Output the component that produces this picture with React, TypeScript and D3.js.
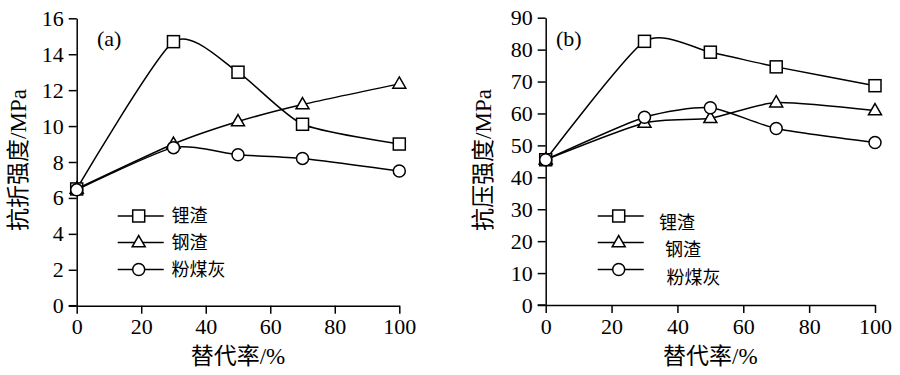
import React, { useEffect, useRef } from "react";
import * as d3 from "d3";

const xValues = [0, 30, 50, 70, 100];
const seriesNames = ["锂渣", "钢渣", "粉煤灰"];
const markers = ["square", "triangle", "circle"];

const flexLi = [6.5, 14.7, 13.0, 10.1, 9.0];
const flexSteel = [6.5, 9.0, 10.25, 11.2, 12.35];
const flexFly = [6.45, 8.8, 8.4, 8.2, 7.5];

const compLi = [45.5, 82.6, 79.2, 74.6, 68.7];
const compSteel = [45.5, 57.0, 58.5, 63.4, 60.9];
const compFly = [45.5, 58.8, 61.8, 55.3, 50.9];

const xTicks = [0, 20, 40, 60, 80, 100];
const flexTicks = [0, 2, 4, 6, 8, 10, 12, 14, 16];
const compTicks = [0, 10, 20, 30, 40, 50, 60, 70, 80, 90];

const NUM_FONT = "Liberation Serif, Times New Roman, Noto Sans CJK SC, serif";

type Panel = {
  label: string;
  yTitle: string;
  yMax: number;
  yTicks: number[];
  series: number[][];
  x0: number;
  x1: number;
  y0: number;
  y1: number;
  yTitleX: number;
  legendX: number;
  legendTextX: number[];
  legendTextDy: number[];
  labelX: number;
};

const panels: Panel[] = [
  {
    label: "(a)",
    yTitle: "抗折强度/MPa",
    yMax: 16,
    yTicks: flexTicks,
    series: [flexLi, flexSteel, flexFly],
    x0: 76.7,
    x1: 399.3,
    y0: 305.7,
    y1: 18.3,
    yTitleX: 18,
    legendX: 117.7,
    legendTextX: [171.5, 171.5, 171.5],
    legendTextDy: [0, 0, 0],
    labelX: 97,
  },
  {
    label: "(b)",
    yTitle: "抗压强度/MPa",
    yMax: 90,
    yTicks: compTicks,
    series: [compLi, compSteel, compFly],
    x0: 545.7,
    x1: 875,
    y0: 305,
    y1: 17.7,
    yTitleX: 483,
    legendX: 597.7,
    legendTextX: [659, 665, 666.5],
    legendTextDy: [7, 7, 8],
    labelX: 556,
  },
];

function drawMarker(g: any, type: string, x: number, y: number) {
  if (type === "square") {
    g.append("rect")
      .attr("x", x - 6)
      .attr("y", y - 6)
      .attr("width", 12)
      .attr("height", 12)
      .attr("fill", "#fff")
      .attr("stroke", "#000")
      .attr("stroke-width", 1.5);
  } else if (type === "triangle") {
    const s = 13;
    const h = s * 0.866;
    g.append("path")
      .attr(
        "d",
        `M${x},${y - h * 0.62}L${x + s / 2},${y + h * 0.38}L${x - s / 2},${y + h * 0.38}Z`
      )
      .attr("fill", "#fff")
      .attr("stroke", "#000")
      .attr("stroke-width", 1.5);
  } else {
    g.append("circle")
      .attr("cx", x)
      .attr("cy", y)
      .attr("r", 6)
      .attr("fill", "#fff")
      .attr("stroke", "#000")
      .attr("stroke-width", 1.5);
  }
}

export default function App() {
  const ref = useRef<SVGSVGElement | null>(null);

  useEffect(() => {
    const svg = d3.select(ref.current);
    svg.selectAll("*").remove();

    panels.forEach((p) => {
      const x = d3.scaleLinear().domain([0, 100]).range([p.x0, p.x1]);
      const y = d3.scaleLinear().domain([0, p.yMax]).range([p.y0, p.y1]);
      const g = svg.append("g");

      const xAxis = g
        .append("g")
        .attr("transform", `translate(0,${p.y0})`)
        .call(
          d3
            .axisBottom(x)
            .tickValues(xTicks)
            .tickSize(8)
            .tickSizeOuter(0)
            .tickPadding(5)
            .tickFormat(d3.format("d") as any)
        );
      const yAxis = g
        .append("g")
        .attr("transform", `translate(${p.x0},0)`)
        .call(
          d3
            .axisLeft(y)
            .tickValues(p.yTicks)
            .tickSize(8)
            .tickSizeOuter(0)
            .tickPadding(5)
            .tickFormat(d3.format("d") as any)
        );
      [xAxis, yAxis].forEach((a) => {
        a.attr("font-family", NUM_FONT).attr("font-size", 22);
        a.selectAll("path").attr("stroke", "#000").attr("stroke-width", 1.5);
        a.selectAll("line").attr("stroke", "#000").attr("stroke-width", 1.5);
        a.selectAll("text")
          .attr("fill", "#000")
          .attr("font-family", NUM_FONT)
          .attr("font-size", 22);
      });
      g.append("line")
        .attr("x1", p.x0 - 8)
        .attr("x2", p.x0)
        .attr("y1", p.y0)
        .attr("y2", p.y0)
        .attr("stroke", "#000")
        .attr("stroke-width", 1.5);

      const line = d3
        .line<number>()
        .x((_, i) => x(xValues[i]))
        .y((d) => y(d))
        .curve(d3.curveCardinal.tension(0.35));

      p.series.forEach((s) => {
        g.append("path")
          .attr("d", line(s) as string)
          .attr("fill", "none")
          .attr("stroke", "#000")
          .attr("stroke-width", 1.5);
      });
      p.series.forEach((s, si) => {
        s.forEach((v, i) => drawMarker(g, markers[si], x(xValues[i]), y(v)));
      });

      const rows = [216, 242.5, 269.5];
      seriesNames.forEach((name, si) => {
        const ly = rows[si];
        g.append("line")
          .attr("x1", p.legendX)
          .attr("x2", p.legendX + 46)
          .attr("y1", ly)
          .attr("y2", ly)
          .attr("stroke", "#000")
          .attr("stroke-width", 1.5);
        drawMarker(g, markers[si], p.legendX + 21, ly);
        g.append("text")
          .attr("x", p.legendTextX[si])
          .attr("y", ly + p.legendTextDy[si])
          .attr("dy", "0.36em")
          .attr("font-family", "Noto Sans CJK SC, sans-serif")
          .attr("font-size", 18)
          .text(name);
      });

      g.append("text")
        .attr("x", p.labelX)
        .attr("y", 46)
        .attr("font-family", NUM_FONT)
        .attr("font-size", 22)
        .text(p.label);

      g.append("text")
        .attr("x", (p.x0 + p.x1) / 2)
        .attr("y", 364)
        .attr("text-anchor", "middle")
        .attr("font-family", NUM_FONT)
        .attr("font-size", 23)
        .text("替代率/%");

      g.append("text")
        .attr("transform", `translate(${p.yTitleX + 8},${160}) rotate(-90)`)
        .attr("text-anchor", "middle")
        .attr("font-family", NUM_FONT)
        .attr("font-size", 23)
        .text(p.yTitle);
    });
  }, []);

  return (
    <svg
      ref={ref}
      width={900}
      height={375}
      style={{ position: "absolute", left: 0, top: 0, background: "#fff" }}
    />
  );
}
